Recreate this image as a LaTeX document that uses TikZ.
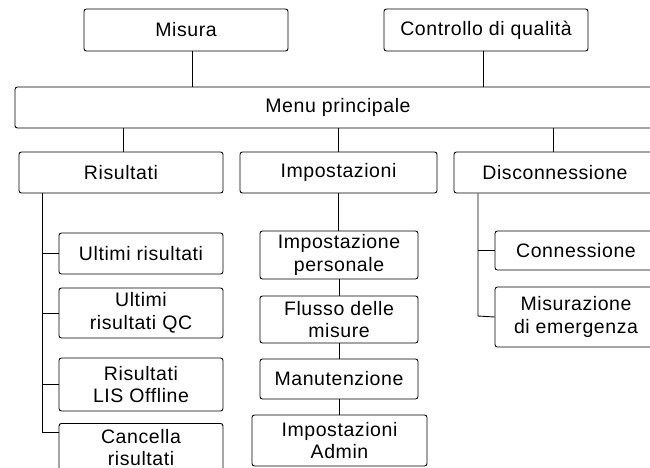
\documentclass[tikz,border=0pt]{standalone}
\usepackage{fontspec}
\setmainfont[LetterSpace=3]{Liberation Sans}
\usetikzlibrary{positioning}

\begin{document}
\begin{tikzpicture}[x=1pt,y=-1pt,line width=0.9pt,font=\fontsize{19.5}{22.5}\selectfont]
  \tikzstyle{menubox}=[draw,rounded corners=2.5pt,inner sep=0pt,align=center]
  \clip (0,0) rectangle (650,467);
  % top level
  \node[menubox,minimum width=204,minimum height=42] (mis) at (186,30) {Misura};
  \node[menubox,minimum width=204,minimum height=42] (qc) at (486,30) {Controllo di qualità};
  \node[menubox,minimum width=646,minimum height=41] (menu) at (338,107.5) {Menu principale};
  % second level
  \node[menubox,minimum width=204,minimum height=41] (ris) at (121,172.5) {Risultati};
  \node[menubox,minimum width=197,minimum height=41] (imp) at (338.5,172.5) {Impostazioni};
  \node[menubox,minimum width=202,minimum height=41] (disc) at (555,172.5) {Disconnessione};
  \draw ([xshift=6]mis.south) -- ([xshift=6]mis.south |- menu.north);
  \draw ([xshift=-3]qc.south) -- ([xshift=-3]qc.south |- menu.north);
  \draw ([xshift=2]ris.north |- menu.south) -- ([xshift=2]ris.north);
  \draw (imp.north |- menu.south) -- (imp.north);
  \draw ([xshift=-2]disc.north |- menu.south) -- ([xshift=-2]disc.north);
  % Risultati
  \node[menubox,minimum width=164,minimum height=41] (last) at (141,253.5) {Ultimi risultati};
  \node[menubox,minimum width=164,minimum height=50] (lastqc) at (141,313) {Ultimi\\risultati QC};
  \node[menubox,minimum width=164,minimum height=53] (lis) at (141,384.5) {Risultati\\LIS Offline};
  \node[menubox,minimum width=164,minimum height=48,anchor=north] (canc) at (141,423) {Cancella\\risultati};
  \coordinate (rspine) at (42,432);
  \draw (ris.south -| rspine) -- (rspine) -- (rspine -| canc.west);
  \foreach \n in {last,lastqc,lis}
    \draw (\n.west -| rspine) -- (\n.west);
  % Impostazioni
  \node[menubox,minimum width=158,minimum height=48] (pers) at (339,255) {Impostazione\\personale};
  \node[menubox,minimum width=158,minimum height=47] (flux) at (339,319.5) {Flusso delle\\misure};
  \node[menubox,minimum width=158,minimum height=40] (manu) at (339,379) {Manutenzione};
  \node[menubox,minimum width=175,minimum height=51] (admin) at (339.5,440.5) {Impostazioni\\Admin};
  \draw ([xshift=-0.5]imp.south) -- ([xshift=-0.5]imp.south |- pers.north);
  \draw (pers) -- (flux);
  \draw (flux) -- (manu);
  \draw (manu) -- (admin.north -| manu);
  % Disconnessione
  \node[menubox,minimum width=162,minimum height=39] (conn) at (576,250.5) {Connessione};
  \node[menubox,minimum width=162,minimum height=60] (emerg) at (576,317) {Misurazione\\di emergenza};
  \coordinate (dspine) at (478,316);
  \draw (disc.south -| dspine) -- (dspine) -- (emerg.west);
  \draw (conn.west -| dspine) -- (conn.west);
\end{tikzpicture}
\end{document}
